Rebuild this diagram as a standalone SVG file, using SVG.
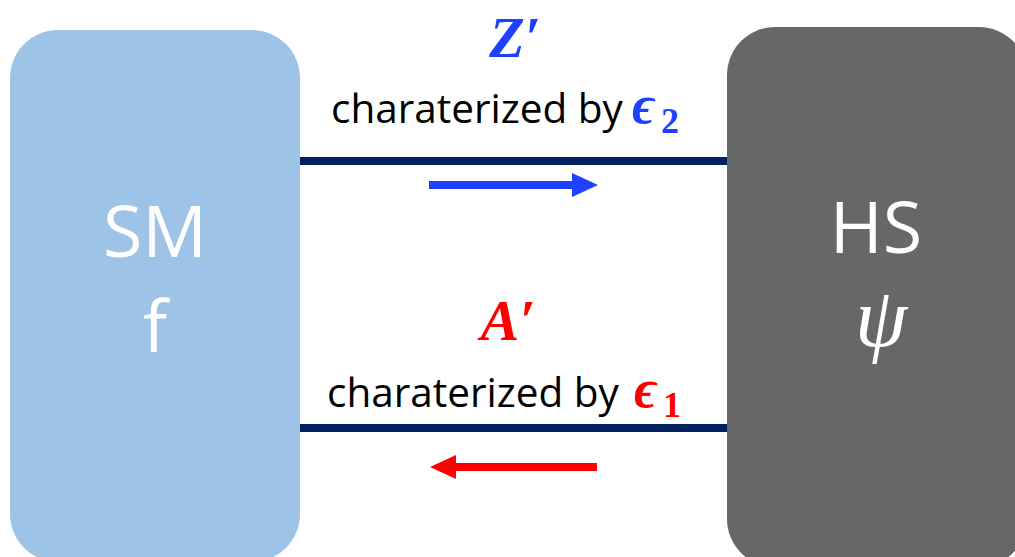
<svg xmlns="http://www.w3.org/2000/svg" width="1015" height="557" viewBox="0 0 1015 557">
<style>
.lbl{font-family:"Open Sans","Liberation Sans",Arial,sans-serif;font-size:40.5px;fill:#000}
.big{font-family:"Open Sans","Liberation Sans",Arial,sans-serif;font-size:72px;fill:#fff;text-anchor:middle}
.math{font-family:"Liberation Serif","DejaVu Serif",serif;font-weight:bold;font-style:italic}
.sub{font-family:"Liberation Serif","DejaVu Serif",serif;font-weight:bold;font-size:36px}
.link{stroke:#002060;stroke-width:8;fill:none}
</style>
<rect width="1015" height="557" fill="#fff"/>
<g id="node-sm">
<rect x="10" y="30" width="290" height="532" rx="48" fill="#9DC3E6"/>
<text class="big" x="155" y="257">SM</text>
<text class="big" x="155" y="352">f</text>
</g>
<g id="node-hs">
<rect x="727" y="27" width="300" height="540" rx="48" fill="#676767"/>
<text class="big" x="876" y="253">HS</text>
<text x="881" y="346" font-family="'Liberation Serif','DejaVu Serif',serif" font-style="italic" font-size="84" fill="#fff" text-anchor="middle">ψ</text>
</g>
<g id="connectors">
<line class="link" x1="300" y1="161" x2="727" y2="161"/>
<line class="link" x1="300" y1="428" x2="727" y2="428"/>
<g id="arrow-right" fill="#1f40ff">
<rect x="429" y="181" width="148" height="8"/>
<polygon points="572,173 598,185 572,197"/>
</g>
<g id="arrow-left" fill="#ff0000">
<rect x="452" y="463" width="145" height="8"/>
<polygon points="456,455 430,467 456,479"/>
</g>
</g>
<g id="label-z">
<text class="math" x="515" y="57" font-size="58" fill="#1f40ff" text-anchor="middle">Z′</text>
<text class="lbl" x="331" y="123">charaterized by</text>
<text class="math" x="632" y="123" font-size="54" fill="#1f40ff">ϵ</text>
<text class="sub" x="661" y="133" fill="#1f40ff">2</text>
</g>
<g id="label-a">
<text class="math" x="508" y="340" font-size="58" fill="#ff0000" text-anchor="middle">A′</text>
<text class="lbl" x="327" y="407">charaterized by</text>
<text class="math" x="634" y="407" font-size="54" fill="#ff0000">ϵ</text>
<text class="sub" x="663" y="417" fill="#ff0000">1</text>
</g>
</svg>
